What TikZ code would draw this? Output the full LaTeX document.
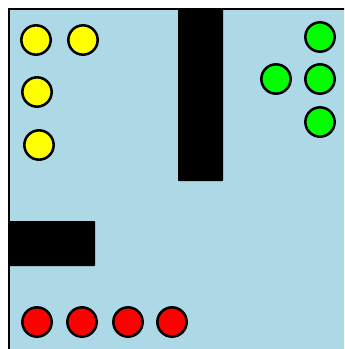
\documentclass[tikz,border=0pt]{standalone}
\usepackage{tikz}
\definecolor{floor}{RGB}{173,216,230}
\definecolor{gold}{RGB}{255,255,0}
\definecolor{lime}{RGB}{0,255,0}
\definecolor{blood}{RGB}{255,0,0}
\tikzset{
  agent/.style={circle,draw=black,line width=1.9pt,minimum size=22pt,inner sep=0pt},
  yellowagent/.style={agent,fill=gold},
  greenagent/.style={agent,fill=lime},
  redagent/.style={agent,fill=blood},
  wall/.style={fill=black,rounded corners=0.5pt}
}

\begin{document}
\begin{tikzpicture}[x=0.75pt,y=-0.75pt]
\useasboundingbox (0,0) rectangle (344,349);
\clip (0,0) rectangle (344,349);
% arena
\fill[floor] (9,9) rectangle (360,360);
\draw[line width=2pt] (9,360) -- (9,9) -- (360,9);
% walls
\fill[wall] (178,9) rectangle (223,181);
\fill[wall] (9,221) rectangle (95,266);
% yellow team
\node[yellowagent] (y1) at (36,40) {};
\node[yellowagent] (y2) at (83,40) {};
\node[yellowagent] (y3) at (37,92) {};
\node[yellowagent] (y4) at (39,145) {};
% green team
\node[greenagent] (g1) at (320,37) {};
\node[greenagent] (g2) at (276,79) {};
\node[greenagent] (g3) at (320,79) {};
\node[greenagent] (g4) at (320,122) {};
% red team
\foreach \i/\x in {1/37,2/82,3/128,4/172}
  \node[redagent] (r\i) at (\x,322) {};
\end{tikzpicture}
\end{document}
